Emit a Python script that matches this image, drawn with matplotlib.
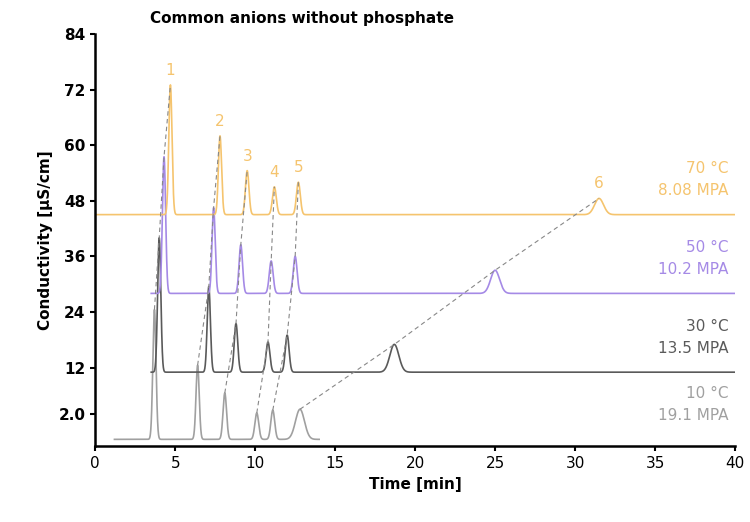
import matplotlib.pyplot as plt
import numpy as np

# peak retention times (min) and apex heights per temperature
temps = ["10 °C\n19.1 MPA", "30 °C\n13.5 MPA", "50 °C\n10.2 MPA", "70 °C\n8.08 MPA"]
colors = ["#a0a0a0", "#5a5a5a", "#a58ae6", "#f5c46e"]
baselines = [-3.5, 11.0, 28.0, 45.0]
starts = [1.2, 3.5, 3.5, 0.0]
ends = [14.0, 40.0, 40.0, 40.0]
times = [
    [3.7, 6.4, 8.1, 10.1, 11.1, 12.8],
    [4.0, 7.1, 8.8, 10.8, 12.0, 18.7],
    [4.3, 7.4, 9.1, 11.0, 12.5, 25.0],
    [4.7, 7.8, 9.5, 11.2, 12.7, 31.5],
]
heights = [
    [24.5, 12.5, 6.5, 2.2, 2.8, 3.0],
    [40.0, 29.5, 21.5, 17.5, 19.0, 17.0],
    [57.5, 46.5, 38.5, 35.0, 36.0, 33.0],
    [73.0, 62.0, 54.5, 51.0, 52.0, 48.5],
]
widths = [0.1, 0.1, 0.11, 0.12, 0.12, 0.28]
peak_labels = ["1", "2", "3", "4", "5", "6"]
yticks = [2.0, 12, 24, 36, 48, 60, 72, 84]
ytick_labels = ["2.0", "12", "24", "36", "48", "60", "72", "84"]

fig = plt.figure(figsize=(7.5, 5.22), dpi=100)
ax = fig.add_axes([0.127, 0.145, 0.853, 0.79])

for k in range(4):
    t = np.linspace(starts[k], ends[k], 4000)
    y = np.full_like(t, baselines[k])
    for tr, h, w in zip(times[k], heights[k], widths):
        y += (h - baselines[k]) * np.exp(-0.5 * ((t - tr) / w) ** 2)
    ax.plot(t, y, color=colors[k], lw=1.2)
    ax.text(39.6, baselines[k] + 7.5, temps[k], color=colors[k], ha="right",
            va="center", fontsize=11, linespacing=1.6)

# dashed connectors between matching peaks
for j in range(6):
    xs = [times[k][j] for k in range(4)]
    ys = [heights[k][j] for k in range(4)]
    ax.plot(xs, ys, ls="--", color="#888888", lw=0.8, dashes=(4, 3))
    ax.text(times[3][j], heights[3][j] + 1.5, peak_labels[j], color=colors[3],
            ha="center", va="bottom", fontsize=11)

ax.set_xlim(0, 40)
ax.set_ylim(-5, 84)
ax.set_yticks(yticks)
ax.set_yticklabels(ytick_labels)
ax.set_xticks(range(0, 41, 5))
for s in ["top", "right"]:
    ax.spines[s].set_visible(False)
for s in ["left", "bottom"]:
    ax.spines[s].set_linewidth(1.8)
ax.tick_params(width=1.5, labelsize=11)
for lab in ax.get_yticklabels():
    lab.set_fontweight("bold")
ax.set_xlabel("Time [min]", fontsize=11, fontweight="bold")
ax.set_ylabel("Conductivity [µS/cm]", fontsize=11, fontweight="bold")
fig.text(0.2, 0.965, "Common anions without phosphate", fontsize=11,
         fontweight="bold", va="center")

fig.savefig("out.png")
